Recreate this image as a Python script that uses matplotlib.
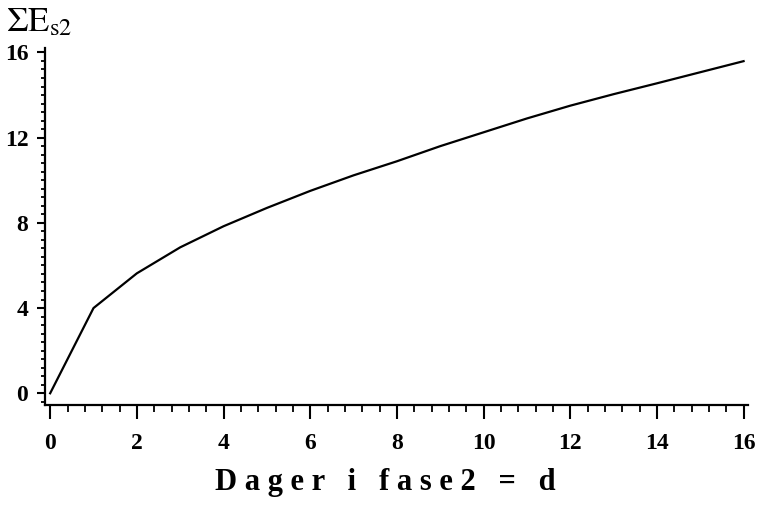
import matplotlib
matplotlib.use("Agg")
import matplotlib.pyplot as plt
from matplotlib.ticker import MultipleLocator

# data
dager = [0, 1, 2, 3, 4, 5, 6, 7, 8, 9, 10, 11, 12, 13, 14, 15, 16]
sum_es2 = [0.0, 4.0, 5.63, 6.85, 7.84, 8.7, 9.5, 10.23, 10.89, 11.6,
           12.25, 12.9, 13.5, 14.04, 14.55, 15.07, 15.59]
x_ticks = [0, 2, 4, 6, 8, 10, 12, 14, 16]
y_ticks = [0, 4, 8, 12, 16]

plt.rcParams['font.family'] = ['Liberation Serif', 'DejaVu Serif']
plt.rcParams['mathtext.fontset'] = 'stix'

fig = plt.figure(figsize=(7.57, 5.07), dpi=100)
ax = fig.add_axes([0.0594, 0.2012, 0.9286, 0.7038])

ax.plot(dager, sum_es2, color='black', linewidth=1.6)

ax.set_xlim(-0.12, 16.1)
ax.set_ylim(-0.55, 16.2)

for side in ['top', 'right']:
    ax.spines[side].set_visible(False)
for side in ['left', 'bottom']:
    ax.spines[side].set_linewidth(1.6)

ax.set_xticks(x_ticks)
ax.set_yticks(y_ticks)
ax.xaxis.set_minor_locator(MultipleLocator(0.4))
ax.yaxis.set_minor_locator(MultipleLocator(0.4))
ax.tick_params(axis='x', which='major', length=10, width=1.5, pad=10)
ax.tick_params(axis='x', which='minor', length=5, width=1.3)
ax.tick_params(axis='y', which='major', length=6, width=1.5, pad=6)
ax.tick_params(axis='y', which='minor', length=3, width=1.3)
for lab in ax.get_xticklabels() + ax.get_yticklabels():
    lab.set_fontsize(17)
    lab.set_fontweight('bold')

# titles
fig.text(0.008, 0.922, r'$\Sigma\mathrm{E}_{\mathrm{s2}}$', fontsize=25,
         ha='left', va='bottom')
fig.text(0.509, 0.02, 'D a g e r   i   f a s e 2   =   d', fontsize=22,
         fontweight='bold', ha='center', va='bottom')

fig.savefig('out.png', dpi=100)
